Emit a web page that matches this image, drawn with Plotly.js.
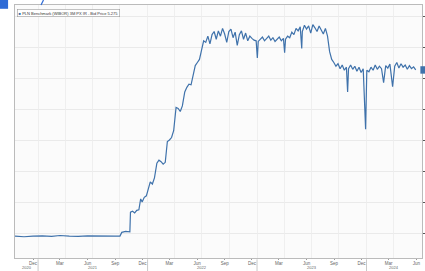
<!DOCTYPE html>
<html>
<head>
<meta charset="utf-8">
<script src="https://cdn.plot.ly/plotly-3.0.1.min.js"></script>
<style>html,body{margin:0;padding:0;background:#fff;}#chart{width:425px;height:271px;}</style>
</head>
<body>
<div id="chart"></div>
<script>
// ---- data ----
const dates = [
"2020-10-16","2020-11-15","2020-12-15","2021-01-15","2021-02-15","2021-03-15","2021-04-15","2021-05-15","2021-06-15","2021-07-15","2021-08-15","2021-09-15","2021-10-01",
"2021-10-07","2021-10-20","2021-11-03","2021-11-05","2021-11-12","2021-11-19","2021-11-26","2021-12-03",
"2021-12-09","2021-12-14","2021-12-21","2021-12-28","2022-01-04","2022-01-10","2022-01-17","2022-01-24","2022-02-01","2022-02-08","2022-02-15","2022-02-22","2022-03-01",
"2022-03-08","2022-03-15","2022-03-22","2022-03-29","2022-04-06","2022-04-13","2022-04-20","2022-04-27","2022-05-05","2022-05-12","2022-05-19","2022-05-26",
"2022-06-02","2022-06-09","2022-06-16","2022-06-23","2022-06-30","2022-07-07","2022-07-14","2022-07-21",
"2022-07-28","2022-08-04","2022-08-11","2022-08-18","2022-08-25","2022-09-01","2022-09-08","2022-09-15","2022-09-22","2022-09-29","2022-10-06","2022-10-13","2022-10-20","2022-10-27",
"2022-11-03","2022-11-10","2022-11-17","2022-11-24","2022-12-01","2022-12-08","2022-12-15","2022-12-22","2022-12-29","2023-01-02","2023-01-05",
"2023-01-12","2023-01-19","2023-01-26","2023-02-02","2023-02-09","2023-02-16","2023-02-23","2023-03-02","2023-03-09","2023-03-16","2023-03-23","2023-03-30","2023-04-03","2023-04-06",
"2023-04-13","2023-04-20","2023-04-27","2023-05-04","2023-05-11","2023-05-18","2023-05-25","2023-05-30","2023-06-01","2023-06-08","2023-06-15","2023-06-22","2023-06-29",
"2023-07-06","2023-07-13","2023-07-20","2023-07-27","2023-08-03","2023-08-10","2023-08-17","2023-08-24","2023-08-31","2023-09-07",
"2023-09-14","2023-09-21","2023-09-28","2023-10-05","2023-10-12","2023-10-19","2023-10-26","2023-10-30","2023-11-02","2023-11-09","2023-11-16","2023-11-23","2023-11-30",
"2023-12-07","2023-12-14","2023-12-21","2023-12-29","2024-01-02","2024-01-09","2024-01-16","2024-01-23","2024-01-30","2024-02-06","2024-02-13","2024-02-20","2024-02-27",
"2024-03-05","2024-03-12","2024-03-19","2024-03-28","2024-04-04","2024-04-11","2024-04-18","2024-04-25","2024-05-02","2024-05-09","2024-05-16","2024-05-23","2024-05-30","2024-06-06","2024-06-13"
];
const values = [
0.10,0.08,0.10,0.11,0.09,0.12,0.10,0.09,0.11,0.10,0.09,0.10,0.10,
0.22,0.25,0.24,0.87,0.90,0.85,0.93,0.95,
1.30,1.20,1.35,1.40,1.62,1.85,1.78,1.98,2.45,2.55,2.50,2.42,2.48,
3.15,3.20,3.28,3.50,4.25,4.22,4.12,4.30,4.75,4.90,5.00,4.98,
5.25,5.60,5.70,5.80,6.10,6.40,6.35,6.55,
6.30,6.60,6.70,6.45,6.72,6.55,6.80,6.62,6.35,6.70,6.78,6.50,6.68,6.25,
6.60,6.72,6.45,6.65,6.40,6.55,6.48,6.42,6.40,5.85,6.38,
6.45,6.52,6.40,6.48,6.55,6.42,6.50,6.38,6.45,6.52,6.40,6.48,6.02,6.45,
6.55,6.50,6.68,6.60,6.80,6.72,6.85,6.15,6.70,6.90,6.78,6.88,6.65,
6.92,6.82,6.70,6.88,6.75,6.62,6.80,6.55,6.05,5.80,
5.70,5.58,5.66,5.50,5.62,5.45,5.55,4.75,5.50,5.62,5.48,5.58,5.42,
5.55,5.38,5.50,3.55,5.45,5.40,5.55,5.45,5.62,5.48,5.58,5.50,5.05,
5.60,5.52,5.65,4.92,5.58,5.70,5.52,5.66,5.55,5.62,5.48,5.60,5.50,5.56,5.46
];
const monthTickDates = ["2020-12-15","2021-03-15","2021-06-15","2021-09-15","2021-12-15","2022-03-15","2022-06-15","2022-09-15","2022-12-15","2023-03-15","2023-06-15","2023-09-15","2023-12-15","2024-03-15","2024-06-15"];
const monthTickLabels = ["Dec","Mar","Jun","Sep","Dec","Mar","Jun","Sep","Dec","Mar","Jun","Sep","Dec","Mar","Jun"];
const yearLabels = ["2020","2021","2022","2023","2024"];
const yearCenters = ["2020-11-24","2021-07-02","2022-07-02","2023-07-02","2024-04-02"];
const yearBoundaries = ["2021-01-01","2022-01-01","2023-01-01","2024-01-01"];
const legendText = "PLN Benchmark (WIBOR) 3M PX IR - Bid Price 5.275";

const xRange = ["2020-10-16","2024-07-04"];
const yRange = [-0.606, 7.555];
const lineColor = "#3f72ab";
const tickFont = {family:"Liberation Sans, Arial, sans-serif", size:4.5, color:"#666"};

const trace = {x:dates, y:values, type:"scatter", mode:"lines",
  line:{color:lineColor, width:1.2}, showlegend:false, hoverinfo:"skip"};
const gridTrace = {x:[dates[0]], y:[values[0]], xaxis:"x2", type:"scatter", mode:"lines",
  line:{width:0}, showlegend:false, hoverinfo:"skip"};

const lastVal = values[values.length-1];
const shapes = yearBoundaries.map(d => ({type:"line", xref:"x", yref:"paper",
  x0:d, x1:d, y0:-0.005, y1:-0.06, line:{color:"#bbb", width:0.8}}));
shapes.push({type:"rect", xref:"paper", yref:"paper", x0:-0.04, x1:-0.017, y0:0.985, y1:1.02,
  fillcolor:"#2f6bd6", line:{width:0}});
shapes.push({type:"line", xref:"paper", yref:"paper", x0:0.064, x1:0.07, y0:1.0, y1:1.02,
  line:{color:"#2f6bd6", width:1.2}});
// last-price tag at right edge
shapes.push({type:"rect", xref:"paper", yref:"y", x0:0.996, x1:1.02, y0:lastVal-0.12, y1:lastVal+0.12,
  fillcolor:lineColor, line:{width:0}});

const annotations = yearLabels.map((t,i) => ({text:t, x:yearCenters[i], xref:"x",
  y:-0.037, yref:"paper", yanchor:"middle", showarrow:false,
  font:{family:"Liberation Sans, Arial, sans-serif", size:4, color:"#666"}}));
annotations.push({text:'<span style="color:'+lineColor+'">■</span> '+legendText,
  xref:"paper", yref:"paper", x:0.004, y:0.985, xanchor:"left", yanchor:"top",
  showarrow:false, bgcolor:"#fff", bordercolor:"#999", borderwidth:0.6, borderpad:1,
  font:{family:"Liberation Sans, Arial, sans-serif", size:4, color:"#333"}});

const layout = {
  width:425, height:271,
  margin:{l:15, r:3, t:5, b:13},
  paper_bgcolor:"#ffffff", plot_bgcolor:"#fbfbfb",
  xaxis:{type:"date", range:xRange, tickmode:"array", tickvals:monthTickDates, ticktext:monthTickLabels,
    tickfont:tickFont, ticks:"outside", ticklen:1, tickcolor:"#999", ticklabelstandoff:0, showgrid:false,
    showline:true, linecolor:"#aaa", linewidth:0.8, mirror:true, zeroline:false},
  xaxis2:{type:"date", range:xRange, overlaying:"x", dtick:"M3", tick0:"2021-01-01",
    showticklabels:false, showgrid:true, gridcolor:"#ececec", gridwidth:0.8, zeroline:false},
  yaxis:{range:yRange, tick0:0.2, dtick:1, side:"right", showticklabels:false,
    ticks:"outside", ticklen:3, tickcolor:"#555", showgrid:true, gridcolor:"#e6e6e6", gridwidth:0.8,
    zeroline:false, showline:true, linecolor:"#aaa", linewidth:0.8, mirror:true},
  shapes:shapes, annotations:annotations
};
Plotly.newPlot("chart", [gridTrace, trace], layout, {staticPlot:true, displayModeBar:false});
</script>
</body>
</html>
